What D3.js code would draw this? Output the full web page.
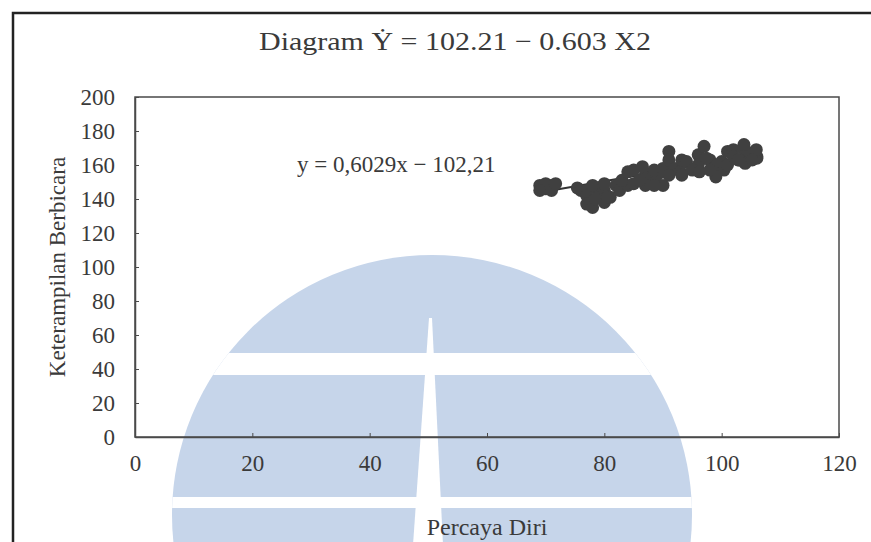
<!DOCTYPE html>
<html>
<head>
<meta charset="utf-8">
<script src="https://cdn.jsdelivr.net/npm/d3@7"></script>
<style>
  body { margin: 0; background: #fff; }
  svg text { font-family: "Liberation Serif", "DejaVu Serif", serif; fill: #3a3a3a; }
</style>
</head>
<body>
<svg width="871" height="542"></svg>
<script>
// data (Percaya Diri vs Keterampilan Berbicara)
var percayaDiri = [69, 70, 71, 70, 69, 71, 71.7,
    75.4, 76, 77, 77, 79, 80, 77, 78, 80, 81, 78, 80, 82, 82.6, 84, 78.5, 80.5,
    83, 84, 85, 87, 88, 89, 85, 87, 90, 86, 88.5, 90, 86.5, 88.5,
    91, 91, 92, 91, 93, 93.2, 93.2,
    94, 96, 97, 96, 98, 95, 96.2, 97.4, 99.2, 100.4,
    99, 98, 100, 101, 102, 104, 105, 106, 103, 101, 104, 106, 102,
    103.8, 105.9, 102.8, 105.2];
var keterampilan = [148, 146, 148, 149, 145, 145, 149,
    146.5, 145, 145, 142, 144, 145, 137, 135, 138, 141, 148, 149, 148, 145, 148, 140, 141,
    151, 156, 157, 154, 152, 154, 149, 148, 148, 151, 157, 158, 159, 148,
    168, 163, 158, 154, 156, 163, 154,
    162, 166, 171, 160, 163, 157, 156, 164, 160, 157,
    153, 157, 162, 168, 169, 168, 167, 165, 163, 160, 161, 164, 165,
    172, 169, 163, 163];
var xTicks = [0, 20, 40, 60, 80, 100, 120];
var yTicks = [0, 20, 40, 60, 80, 100, 120, 140, 160, 180, 200];
var trendSlope = 0.6029, trendIntercept = 102.21;

var titleText = "Diagram \u1E8E = 102.21 \u2212 0.603 X2";
var eqText = "y = 0,6029x \u2212 102,21";
var xTitle = "Percaya Diri";
var yTitle = "Keterampilan Berbicara";

var margin = {top: 97, right: 32, bottom: 105, left: 135},
    width = 871 - margin.left - margin.right,
    height = 542 - margin.top - margin.bottom;

var svg = d3.select("svg");

// watermark behind the chart
var wm = svg.append("g");
wm.append("clipPath").attr("id", "wmclip")
    .append("circle").attr("cx", 432).attr("cy", 515).attr("r", 260);
var wmg = wm.append("g").attr("clip-path", "url(#wmclip)");
wmg.append("rect").attr("x", 150).attr("y", 250).attr("width", 580).attr("height", 300)
    .attr("fill", "#c6d5ea");
wmg.append("rect").attr("x", 150).attr("y", 353).attr("width", 580).attr("height", 22).attr("fill", "#fff");
wmg.append("rect").attr("x", 150).attr("y", 497).attr("width", 580).attr("height", 11).attr("fill", "#fff");
wmg.append("path").attr("d", "M429,318L432,318L443,545L413,545Z").attr("fill", "#fff");

// outer chart border (only top and left survive in the scan)
svg.append("path")
    .attr("d", "M13,542V13H871")
    .attr("fill", "none")
    .attr("stroke", "#222")
    .attr("stroke-width", 2.5);

var g = svg.append("g")
    .attr("transform", "translate(" + margin.left + "," + margin.top + ")");

var x = d3.scaleLinear().domain([0, 120]).range([0, width]);
var y = d3.scaleLinear().domain([0, 200]).range([height, 0]);

// plot frame
g.append("rect")
    .attr("width", width).attr("height", height)
    .attr("fill", "none").attr("stroke", "#4a4a4a").attr("stroke-width", 1.5);

var xAxis = g.append("g")
    .attr("transform", "translate(0," + height + ")")
    .call(d3.axisBottom(x).tickValues(xTicks).tickSizeInner(-4).tickSizeOuter(0).tickPadding(18));
var yAxis = g.append("g")
    .call(d3.axisLeft(y).tickValues(yTicks).tickSizeInner(-4).tickSizeOuter(0).tickPadding(20));

[xAxis, yAxis].forEach(function(a) {
    a.select(".domain").attr("stroke", "#4a4a4a").attr("stroke-width", 1.5);
    a.selectAll(".tick line").attr("stroke", "#4a4a4a");
    a.selectAll("text").attr("font-size", 23).attr("fill", "#3a3a3a")
        .attr("font-family", "Liberation Serif, serif");
});

// trend line
var xr = d3.extent(percayaDiri);
g.append("line")
    .attr("x1", x(xr[0])).attr("y1", y(trendSlope * xr[0] + trendIntercept))
    .attr("x2", x(xr[1])).attr("y2", y(trendSlope * xr[1] + trendIntercept))
    .attr("stroke", "#333").attr("stroke-width", 2);

// points
g.selectAll("circle.pt")
    .data(d3.range(percayaDiri.length))
    .join("circle")
    .attr("class", "pt")
    .attr("cx", function(i) { return x(percayaDiri[i]); })
    .attr("cy", function(i) { return y(keterampilan[i]); })
    .attr("r", 6.5)
    .attr("fill", "#404040");

// texts
svg.append("text")
    .attr("x", 455).attr("y", 50)
    .attr("text-anchor", "middle")
    .attr("font-size", 26)
    .attr("textLength", 392)
    .attr("lengthAdjust", "spacingAndGlyphs")
    .text(titleText);

g.append("text")
    .attr("x", 297 - margin.left).attr("y", 172 - margin.top)
    .attr("font-size", 23)
    .text(eqText);

svg.append("text")
    .attr("x", margin.left + width / 2).attr("y", 535)
    .attr("text-anchor", "middle")
    .attr("font-size", 24)
    .text(xTitle);

svg.append("text")
    .attr("transform", "translate(65," + (margin.top + height / 2) + ") rotate(-90)")
    .attr("text-anchor", "middle")
    .attr("font-size", 23)
    .text(yTitle);
</script>
</body>
</html>
